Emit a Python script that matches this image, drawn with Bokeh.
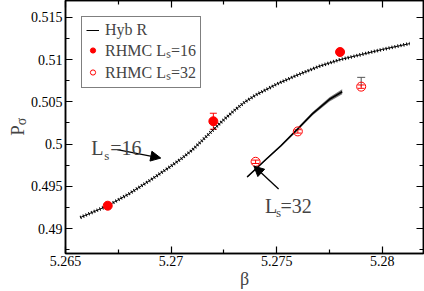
import math
from bokeh.plotting import figure
from bokeh.layouts import row
from bokeh.models import (Range1d, LinearAxis, FixedTicker, ColumnDataSource, Whisker,
                          TeeHead, Arrow, NormalHead, Label, Legend, LegendItem,
                          CustomJSTickFormatter)
from bokeh.embed import file_html
from bokeh.resources import INLINE

# ---------------- data ----------------
hyb_beta = [5.2657, 5.2670, 5.2680, 5.2690, 5.2700, 5.2705, 5.2710, 5.2715, 5.2720,
            5.2725, 5.2730, 5.2735, 5.2740, 5.2750, 5.2760, 5.2770, 5.2780, 5.2790,
            5.2800, 5.2813]
hyb_p = [0.4913, 0.4927, 0.4941, 0.4957, 0.4974, 0.4983, 0.4993, 0.5005, 0.5017,
         0.5029, 0.5040, 0.5050, 0.5058, 0.5071, 0.5082, 0.5092, 0.5100, 0.5106,
         0.5112, 0.5119]

hyb32_beta = [5.2736, 5.2745, 5.2752, 5.2760, 5.2767, 5.2775, 5.2781]
hyb32_p = [0.4961, 0.4982, 0.4998, 0.5018, 0.5036, 0.5053, 0.5062]
hyb32_err = [0.0001, 0.0001, 0.00012, 0.00015, 0.0002, 0.00025, 0.0003]

rhmc16_beta = [5.267, 5.272, 5.278]
rhmc16_p = [0.4927, 0.5027, 0.5109]
rhmc16_err = [0.0001, 0.00095, 0.0001]

rhmc32_beta = [5.274, 5.276, 5.279]
rhmc32_p = [0.4979, 0.5015, 0.5068]
rhmc32_err = [0.0002, 0.0002, 0.0002]

extra_beta = [5.279]
extra_p = [0.5068]
extra_err = [0.0011]

x_ticks = [5.265, 5.27, 5.275, 5.28]
x_tick_labels = ["5.265", "5.27", "5.275", "5.28"]
x_minor = [5.2675, 5.2725, 5.2775]
y_ticks = [0.49, 0.495, 0.5, 0.505, 0.51, 0.515]
y_tick_labels = ["0.49", "0.495", "0.5", "0.505", "0.51", "0.515"]
y_minor = [0.4875, 0.4925, 0.4975, 0.5025, 0.5075, 0.5125]

FONT = "'Liberation Serif', 'Times New Roman', serif"

# ---------- narrow figure holding the y-axis title P_sigma ----------
# (its frame is aligned by the row layout with the main plot frame: 253 px tall)
LW, H, FH = 27, 291, 253
lf = figure(width=LW, height=H, x_range=Range1d(0, LW), y_range=Range1d(0, FH),
            output_backend="svg", toolbar_location=None,
            min_border_left=0, min_border_right=0, min_border_top=0, min_border_bottom=0)
lf.axis.visible = False
lf.grid.visible = False
lf.outline_line_color = None
lf.border_fill_color = "white"
lf.add_layout(Label(x=17, y=123, text="P", angle=math.pi / 2, text_font=FONT,
                    text_font_size="19px", text_align="center",
                    text_baseline="alphabetic"))
lf.add_layout(Label(x=21, y=132, text="σ", angle=math.pi / 2, text_font=FONT,
                    text_font_size="14px", text_align="center",
                    text_baseline="alphabetic"))

# ---------- main plot ----------
p = figure(width=424 - LW, height=H,
           x_range=Range1d(5.265, 5.28195), y_range=Range1d(0.48704, 0.517),
           output_backend="svg", toolbar_location=None,
           min_border_left=35, min_border_right=1, min_border_top=0, min_border_bottom=38)
p.grid.visible = False
p.outline_line_color = "black"
p.outline_line_width = 1.5
p.background_fill_color = "white"
p.border_fill_color = "white"

xt = FixedTicker(ticks=x_ticks, minor_ticks=x_minor)
yt = FixedTicker(ticks=y_ticks, minor_ticks=y_minor)

def style_axis(ax, ticker):
    ax.ticker = ticker
    ax.axis_line_width = 1.5
    ax.axis_line_color = "black"
    ax.major_tick_in = 7
    ax.major_tick_out = 0
    ax.minor_tick_in = 4
    ax.minor_tick_out = 0
    ax.major_tick_line_width = 1.2
    ax.minor_tick_line_width = 1.2
    ax.major_label_text_font = FONT
    ax.major_label_text_font_size = "14px"
    ax.major_label_text_color = "black"
    ax.major_label_standoff = 3

style_axis(p.xaxis[0], xt)
style_axis(p.yaxis[0], yt)
p.xaxis[0].major_label_standoff = 2
p.xaxis[0].major_label_overrides = dict(zip(x_ticks, x_tick_labels))
p.yaxis[0].major_label_overrides = dict(zip(y_ticks, y_tick_labels))
p.xaxis[0].axis_label = "β"
p.xaxis[0].axis_label_text_font = FONT
p.xaxis[0].axis_label_text_font_style = "normal"
p.xaxis[0].axis_label_text_font_size = "18px"
p.xaxis[0].axis_label_standoff = 0

empty = CustomJSTickFormatter(code="return ''")
top = LinearAxis(formatter=empty)
right = LinearAxis(formatter=empty)
style_axis(top, xt)
style_axis(right, yt)
for a in (top, right):
    a.major_label_text_font_size = "0px"
    a.major_label_standoff = 0
p.add_layout(top, "above")
p.add_layout(right, "right")

# Ls=32 hybrid band
lo32 = [v - e for v, e in zip(hyb32_p, hyb32_err)]
hi32 = [v + e for v, e in zip(hyb32_p, hyb32_err)]
p.varea(x=hyb32_beta, y1=lo32, y2=hi32, fill_color="#555555", fill_alpha=0.8)
p.line(hyb32_beta, hyb32_p, line_color="black", line_width=1.6)

# Ls=16 hybrid curve with dense error hatching
hyb_line = p.line(hyb_beta, hyb_p, line_color="black", line_width=1.0)
p.line(hyb_beta, hyb_p, line_color="black", line_width=3.5, line_dash="1 2")

# error bars
s16 = ColumnDataSource(dict(x=rhmc16_beta, y=rhmc16_p,
                            lo=[v - e for v, e in zip(rhmc16_p, rhmc16_err)],
                            hi=[v + e for v, e in zip(rhmc16_p, rhmc16_err)]))
s32 = ColumnDataSource(dict(x=rhmc32_beta, y=rhmc32_p,
                            lo=[v - e for v, e in zip(rhmc32_p, rhmc32_err)],
                            hi=[v + e for v, e in zip(rhmc32_p, rhmc32_err)]))
sx = ColumnDataSource(dict(x=extra_beta,
                           lo=extra_p,
                           hi=[v + e for v, e in zip(extra_p, extra_err)]))
p.add_layout(Whisker(source=sx, base="x", lower="lo", upper="hi", line_color="#555555",
                     line_width=1, lower_head=None,
                     upper_head=TeeHead(size=8, line_color="#555555", line_width=1)))
for src in (s16, s32):
    p.add_layout(Whisker(source=src, base="x", lower="lo", upper="hi", line_color="red",
                         line_width=1,
                         lower_head=TeeHead(size=7, line_color="red", line_width=1),
                         upper_head=TeeHead(size=7, line_color="red", line_width=1)))

r16 = p.scatter("x", "y", source=s16, size=9, marker="circle", fill_color="red",
                line_color="red")
r32 = p.scatter("x", "y", source=s32, size=9, marker="circle", fill_color=None,
                line_color="red", line_width=1)

legend = Legend(items=[LegendItem(label="Hyb R", renderers=[hyb_line]),
                       LegendItem(label="RHMC L\u209B=16", renderers=[r16]),
                       LegendItem(label="RHMC L\u209B=32", renderers=[r32])],
                location="top_left")
legend.border_line_color = "black"
legend.border_line_width = 1
legend.label_text_font = FONT
legend.label_text_font_size = "16px"
legend.label_height = 16
legend.glyph_width = 13
legend.glyph_height = 14
legend.spacing = 0
legend.padding = 4
legend.margin = 16
legend.label_standoff = 6
legend.background_fill_alpha = 1
p.add_layout(legend)

# annotations
p.add_layout(Arrow(x_start=5.26745, y_start=0.49935, x_end=5.26951, y_end=0.49834,
                   line_color="black", line_width=1.3,
                   end=NormalHead(size=10, fill_color="black", line_color="black")))
p.add_layout(Arrow(x_start=5.27509, y_start=0.49467, x_end=5.27392, y_end=0.49739,
                   line_color="black", line_width=1.3,
                   end=NormalHead(size=10, fill_color="black", line_color="black")))

def lab(x, y, t, size):
    p.add_layout(Label(x=x, y=y, text=t, text_font=FONT, text_font_size=size,
                       text_baseline="alphabetic", text_align="left"))

lab(5.26622, 0.49953, "L", "20px")
lab(5.26683, 0.49870, "s", "13px")
lab(5.26712, 0.49953, "=16", "20px")
lab(5.27444, 0.49265, "L", "20px")
lab(5.27497, 0.49190, "s", "13px")
lab(5.27518, 0.49265, "=32", "20px")

layout = row(lf, p, spacing=0)
open("out.html", "w").write(file_html(layout, INLINE))
